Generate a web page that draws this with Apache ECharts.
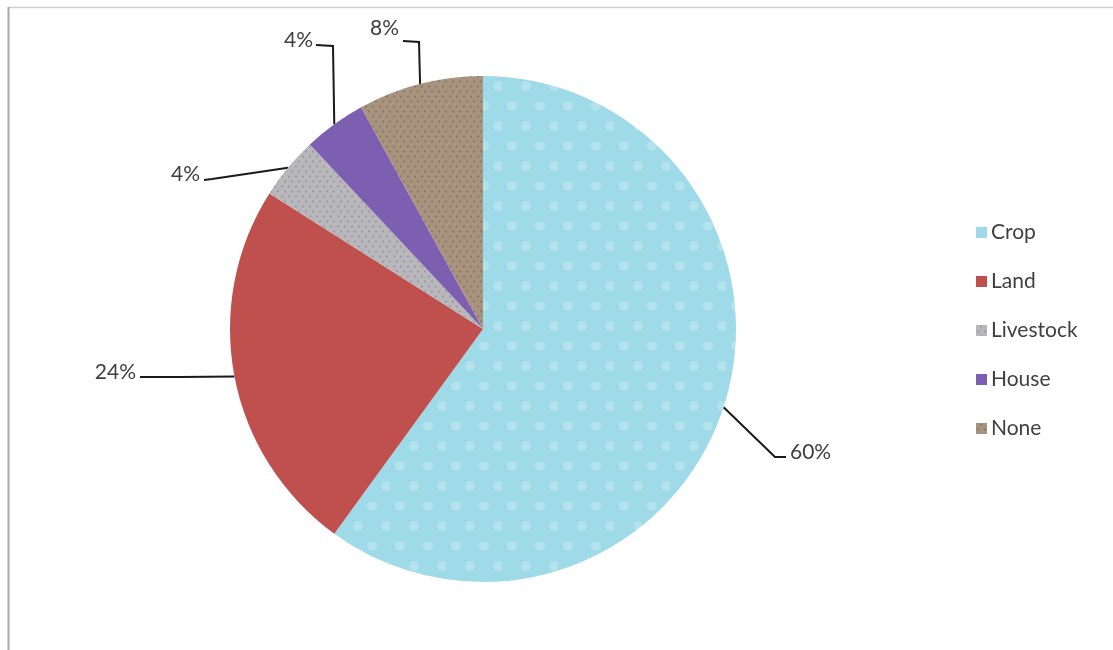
<!DOCTYPE html>
<html>
<head>
<meta charset="utf-8">
<script src="https://cdn.jsdelivr.net/npm/echarts@6/dist/echarts.min.js"></script>
<style>
  html, body { margin: 0; padding: 0; background: #fff; }
  #main { width: 1113px; height: 650px; }
</style>
</head>
<body>
<div id="main"></div>
<script>
// data
const categories = ['Crop', 'Land', 'Livestock', 'House', 'None']
const shares = [60, 24, 4, 4, 8]

// look of each slice
const sliceColors = ['#9fdae8', '#c0504d', '#b7b7bc', '#7d5fb2', '#a8937f']
const sliceDecals = [
  { symbol: 'circle', color: 'rgba(255,255,255,0.22)', symbolSize: 0.8, dashArrayX: [[16, 12], [0, 16, 12, 0]], dashArrayY: [12, 8] },
  null,
  { symbol: 'circle', color: 'rgba(90,90,95,0.4)', symbolSize: 0.6, dashArrayX: [[4, 3], [0, 3, 4, 0]], dashArrayY: [3, 2] },
  null,
  { symbol: 'circle', color: 'rgba(80,60,45,0.4)', symbolSize: 0.6, dashArrayX: [[4, 3], [0, 3, 4, 0]], dashArrayY: [3, 2] }
]

// where each label sits and where its leader line bends
const labelSpots = [
  { x: 790, y: 452, align: 'left', bend: [775, 457], end: [786, 457] },
  { x: 136, y: 372, align: 'right', bend: [180, 377], end: [140, 377] },
  { x: 200, y: 174, align: 'right', bend: [212, 179], end: [204, 180] },
  { x: 313, y: 40, align: 'right', bend: [333, 46], end: [316, 45] },
  { x: 399, y: 28, align: 'right', bend: [419, 42], end: [403, 41] }
]

const myChart = echarts.init(document.getElementById('main'))

const pieData = categories.map((name, i) => {
  const item = {
    name: name,
    value: shares[i],
    itemStyle: { color: sliceColors[i] }
  }
  if (sliceDecals[i]) item.itemStyle.decal = sliceDecals[i]
  return item
})

const option = {
  backgroundColor: '#fff',
  textStyle: { fontFamily: 'Lato, "Liberation Sans", sans-serif' },
  graphic: [
    { type: 'line', shape: { x1: 8, y1: 7.5, x2: 1113, y2: 7.5 }, style: { stroke: '#cfcfcf', lineWidth: 1.5 } },
    { type: 'line', shape: { x1: 8.5, y1: 7, x2: 8.5, y2: 650 }, style: { stroke: '#a9a9a9', lineWidth: 2 } }
  ],
  legend: {
    orient: 'vertical',
    left: 971,
    top: 217,
    icon: 'rect',
    itemWidth: 11,
    itemHeight: 11,
    itemGap: 28,
    textStyle: { color: '#404040', fontSize: 21, padding: [0, 0, 0, -1] },
    data: categories
  },
  series: [
    {
      type: 'pie',
      center: [483, 329],
      radius: 253,
      startAngle: 90,
      clockwise: true,
      avoidLabelOverlap: false,
      data: pieData,
      itemStyle: { borderWidth: 0 },
      label: {
        show: true,
        position: 'outside',
        formatter: '{d}%',
        color: '#404040',
        fontSize: 21,
        fontFamily: 'Lato, "Liberation Sans", sans-serif'
      },
      labelLine: {
        show: true,
        length: 20,
        length2: 20,
        lineStyle: { color: '#1a1a1a', width: 2 }
      },
      labelLayout: function (params) {
        const spot = labelSpots[params.dataIndex]
        const start = params.labelLinePoints ? params.labelLinePoints[0] : spot.bend
        return {
          x: spot.x,
          y: spot.y,
          align: spot.align,
          verticalAlign: 'middle',
          labelLinePoints: [start, spot.bend, spot.end]
        }
      },
      emphasis: { disabled: true }
    }
  ]
}

myChart.setOption(option)
</script>
</body>
</html>
